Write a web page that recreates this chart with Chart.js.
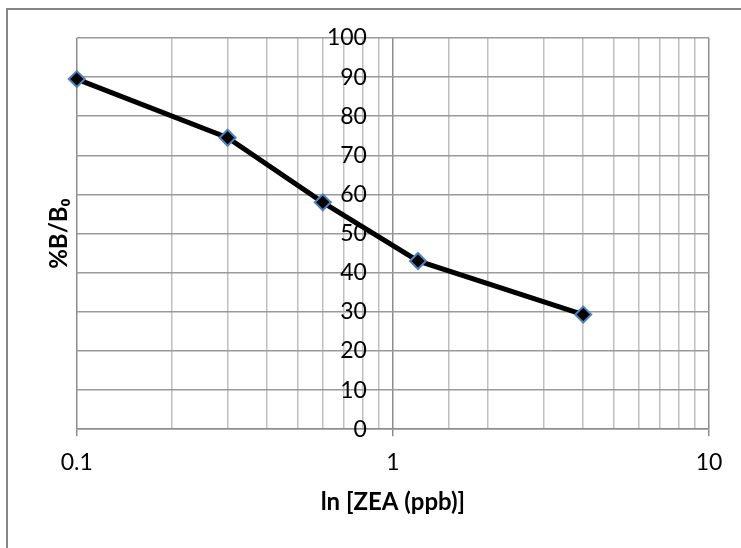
<!DOCTYPE html>
<html>
<head>
<meta charset="utf-8">
<script src="https://cdn.jsdelivr.net/npm/chart.js@4.4.1/dist/chart.umd.min.js"></script>
<style>
  html, body { margin: 0; padding: 0; background: #fff; }
  #c { display: block; }
</style>
</head>
<body>
<canvas id="c" width="741" height="548"></canvas>
<script>
const concentrations = [0.1, 0.3, 0.6, 1.2, 4];
const percentBB0 = [89.5, 74.5, 58, 43, 29.3];
const xTickLabels = ['0.1', '1', '10'];
const yTickValues = [0, 10, 20, 30, 40, 50, 60, 70, 80, 90, 100];
const xTitle = 'ln [ZEA (ppb)]';
const yTitle = '%B/B\u2080';

function isDecade(v) {
  const l = Math.log10(v);
  return Math.abs(l - Math.round(l)) < 1e-6;
}

const framePlugin = {
  id: 'frame',
  beforeDraw(chart) {
    const ctx = chart.ctx;
    ctx.save();
    ctx.fillStyle = '#fff';
    ctx.fillRect(0, 0, chart.width, chart.height);
    ctx.strokeStyle = '#868686';
    ctx.lineWidth = 2;
    ctx.beginPath();
    ctx.moveTo(7, chart.height);
    ctx.lineTo(7, 9);
    ctx.lineTo(chart.width, 9);
    ctx.stroke();
    ctx.restore();
  }
};

new Chart(document.getElementById('c'), {
  type: 'line',
  data: {
    datasets: [{
      data: concentrations.map((x, i) => ({ x: x, y: percentBB0[i] })),
      borderColor: '#000',
      borderWidth: 5,
      pointStyle: 'rectRot',
      pointRadius: 8,
      pointBackgroundColor: '#000',
      pointBorderColor: '#4f81bd',
      pointBorderWidth: 2,
      tension: 0,
      clip: false
    }]
  },
  options: {
    responsive: false,
    animation: false,
    layout: { padding: { top: 38, right: 32, bottom: 29, left: 45 } },
    plugins: { legend: { display: false }, tooltip: { enabled: false } },
    scales: {
      x: {
        type: 'logarithmic',
        min: 0.1,
        max: 10,
        border: { display: true, color: '#8c8c8c', width: 1.5 },
        grid: {
          color: c => (c.tick && isDecade(c.tick.value)) ? '#8c8c8c' : '#bfbfbf',
          lineWidth: 1.5,
          tickLength: 7,
          tickColor: c => (c.tick && isDecade(c.tick.value)) ? '#8c8c8c' : 'rgba(0,0,0,0)'
        },
        ticks: {
          autoSkip: false,
          maxRotation: 0,
          padding: 13,
          color: '#000',
          font: { family: 'Lato', size: 23 },
          callback: function (v) {
            const s = String(+v.toPrecision(6));
            return xTickLabels.includes(s) ? s : '';
          }
        },
        title: {
          display: true,
          text: xTitle,
          color: '#000',
          font: { family: 'Lato', size: 24, weight: 'bold', lineHeight: 1.05 },
          padding: { top: 0, bottom: 4 }
        }
      },
      y: {
        type: 'linear',
        min: 0,
        max: 100,
        position: { x: 0.8275 },
        afterBuildTicks: axis => { axis.ticks = yTickValues.map(v => ({ value: v })); },
        border: { display: false },
        grid: { color: '#9a9a9a', lineWidth: 1.5, drawTicks: false },
        ticks: {
          padding: 0,
          color: '#000',
          font: { family: 'Lato', size: 23 }
        }
      },
      y2: {
        type: 'linear',
        position: 'left',
        border: { display: false },
        grid: { display: false, drawTicks: false },
        ticks: { display: false },
        title: {
          display: true,
          text: yTitle,
          color: '#000',
          font: { family: 'Lato', size: 24, weight: 'bold' },
          padding: { top: 0, bottom: 3 }
        }
      }
    }
  },
  plugins: [framePlugin]
});
</script>
</body>
</html>
